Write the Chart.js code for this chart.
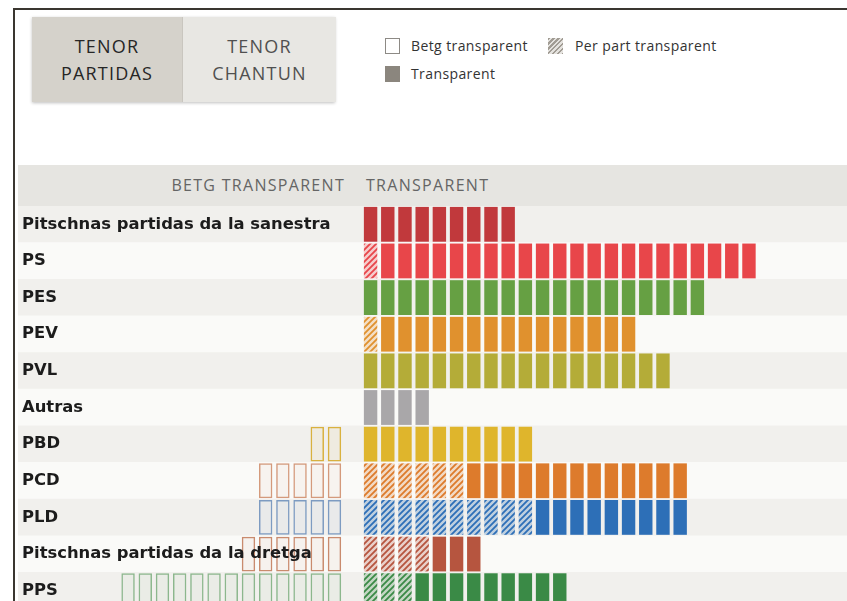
<!DOCTYPE html>
<html>
<head>
<meta charset="utf-8">
<script src="https://cdn.jsdelivr.net/npm/chart.js@4.4.1/dist/chart.umd.min.js"></script>
<style>
body { margin: 0; width: 847px; height: 601px; overflow: hidden; background: #fff; position: relative; font-family: "Open Sans", sans-serif; }
.frame { position: absolute; left: 13px; top: 8px; width: 840px; height: 600px; border-top: 2px solid #3a3630; border-left: 2px solid #3a3630; }
.tabs { position: absolute; left: 32px; top: 17px; width: 303px; height: 85px; display: flex; box-shadow: 0 1px 3px rgba(0,0,0,0.25); }
.tab { flex: none; display: flex; align-items: center; justify-content: center; text-align: center; font-size: 18px; line-height: 27px; letter-spacing: 1.2px; }
.tab.on { width: 150px; background: #d5d2cb; color: #262626; }
.tab.off { width: 153px; background: #e8e7e3; color: #505050; border-left: 1px solid #c9c6bf; }
.leg { position: absolute; font-size: 14px; letter-spacing: 0.4px; color: #333; }
.sw { position: absolute; width: 15px; height: 16px; box-sizing: border-box; }
.head { position: absolute; left: 18px; top: 165px; width: 829px; height: 41px; background: #e6e5e1; }
.head span { position: absolute; top: 9px; font-size: 16px; color: #656565; letter-spacing: 1.3px; }
#chart { position: absolute; left: 18px; top: 206px; }
</style>
</head>
<body>
<div class="frame"></div>
<div class="tabs">
  <div class="tab on">TENOR<br>PARTIDAS</div>
  <div class="tab off">TENOR<br>CHANTUN</div>
</div>
<div class="sw" style="left:385px;top:38px;border:1px solid #8d8a85;background:#fff"></div>
<div class="leg" style="left:411px;top:36px">Betg transparent</div>
<div class="sw" style="left:548px;top:38px;background:repeating-linear-gradient(135deg,#a19c94 0 1.5px,#e4e2de 1.5px 3.5px)"></div>
<div class="leg" style="left:575px;top:36px">Per part transparent</div>
<div class="sw" style="left:385px;top:66px;background:#8b867e"></div>
<div class="leg" style="left:411px;top:64px">Transparent</div>
<div class="head">
  <span style="right:502px">BETG TRANSPARENT</span>
  <span style="left:348px">TRANSPARENT</span>
</div>
<canvas id="chart" width="829" height="403"></canvas>
<script>
// rows, top to bottom
const parties = ['Pitschnas partidas da la sanestra', 'PS', 'PES', 'PEV', 'PVL', 'Autras',
    'PBD', 'PCD', 'PLD', 'Pitschnas partidas da la dretga', 'PPS'];
// number of blocks per row
const transparent     = [9, 22, 20, 15, 18, 4, 10, 13, 9, 3, 9];
const partTransparent = [0, 1, 0, 1, 0, 0, 0, 6, 10, 4, 3];
const notTransparent  = [0, 0, 0, 0, 0, 0, 2, 5, 5, 6, 13];

const partyColors = ['#c1393c', '#e8464a', '#66a043', '#e0912e', '#b4ac38', '#a9a7a9',
    '#dfb52c', '#dd7b2c', '#2d6fb7', '#b6553f', '#3a8a46'];
const outlineColors = ['#c1393c', '#e8464a', '#66a043', '#e0912e', '#b4ac38', '#a9a7a9',
    '#d9b13f', '#d49a7c', '#7d9bc1', '#c98b6e', '#8cb78d'];
const rowBg = ['#f1f0ed', '#fafaf8'];

const GAP = 0.11;        // space between blocks, in block units
const LEFT_SHIFT = 1.1;  // space between the two columns

function hexToRgba(hex, a) {
    const n = parseInt(hex.slice(1), 16);
    return 'rgba(' + (n >> 16) + ',' + ((n >> 8) & 255) + ',' + (n & 255) + ',' + a + ')';
}

function hatch(color) {
    const c = document.createElement('canvas');
    c.width = 6;
    c.height = 6;
    const g = c.getContext('2d');
    g.fillStyle = hexToRgba(color, 0.25);
    g.fillRect(0, 0, 6, 6);
    g.strokeStyle = color;
    g.lineWidth = 1.8;
    g.beginPath();
    g.moveTo(-1, 7); g.lineTo(7, -1);
    g.moveTo(-1, 1); g.lineTo(1, -1);
    g.moveTo(5, 7); g.lineTo(7, 5);
    g.stroke();
    return g.createPattern(c, 'repeat');
}
const hatches = partyColors.map(hatch);

const datasets = [];

// row stripes
datasets.push({
    data: parties.map(() => [-20, 28.2]),
    backgroundColor: parties.map((_, i) => rowBg[i % 2]),
    barPercentage: 1,
    order: 10
});

// right side: part transparent + transparent blocks
const maxRight = Math.max(...transparent.map((t, i) => t + partTransparent[i]));
for (let k = 0; k < maxRight; k++) {
    datasets.push({
        data: parties.map((_, i) => k < transparent[i] + partTransparent[i] ? [k + GAP, k + 1 - GAP] : null),
        backgroundColor: parties.map((_, i) => k < partTransparent[i] ? hatches[i] : partyColors[i]),
        order: 1
    });
}

// left side: not transparent blocks (outlined)
const maxLeft = Math.max(...notTransparent);
for (let k = 0; k < maxLeft; k++) {
    datasets.push({
        data: parties.map((_, i) => k < notTransparent[i]
            ? [-(k + 1) - LEFT_SHIFT + GAP, -k - LEFT_SHIFT - GAP] : null),
        backgroundColor: parties.map((_, i) => hexToRgba(outlineColors[i], 0.07)),
        borderColor: outlineColors,
        borderWidth: 1.5,
        borderSkipped: false,
        order: 1
    });
}

new Chart(document.getElementById('chart'), {
    type: 'bar',
    data: { labels: parties, datasets: datasets },
    options: {
        indexAxis: 'y',
        responsive: false,
        animation: false,
        layout: { padding: 0 },
        datasets: { bar: { grouped: false, categoryPercentage: 1, barPercentage: 0.95 } },
        plugins: { legend: { display: false }, tooltip: { enabled: false } },
        scales: {
            x: { type: 'linear', min: -20, max: 28.2, display: false },
            y: {
                grid: { display: false },
                border: { display: false },
                afterFit: function (scale) {
                    scale.width = 0;
                    scale.paddingTop = 0;
                    scale.paddingBottom = 0;
                },
                ticks: {
                    z: 1,
                    mirror: true,
                    padding: 4,
                    color: '#1c1c1c',
                    font: { family: 'DejaVu Sans', weight: 'bold', size: 16.4 }
                }
            }
        }
    }
});
</script>
</body>
</html>
